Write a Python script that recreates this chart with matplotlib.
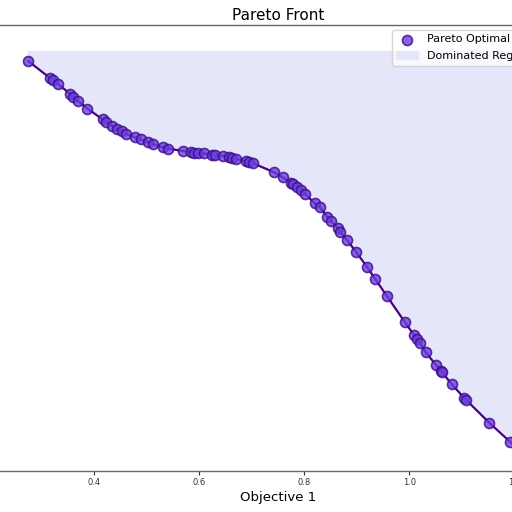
import numpy as np
import matplotlib
matplotlib.use("Agg")
import matplotlib.pyplot as plt

# Pareto optimal points (Objective 1, Objective 2)
OBJ1 = [0.274, 0.316, 0.321, 0.330, 0.354, 0.359, 0.368, 0.387, 0.416, 0.422,
        0.433, 0.444, 0.452, 0.460, 0.478, 0.488, 0.503, 0.512, 0.531, 0.541,
        0.568, 0.584, 0.589, 0.598, 0.608, 0.624, 0.630, 0.645, 0.657, 0.662,
        0.670, 0.688, 0.695, 0.703, 0.742, 0.759, 0.774, 0.779, 0.786, 0.794,
        0.801, 0.820, 0.830, 0.843, 0.850, 0.864, 0.868, 0.881, 0.899, 0.919,
        0.935, 0.957, 0.991, 1.009, 1.014, 1.021, 1.031, 1.051, 1.060, 1.062,
        1.081, 1.104, 1.108, 1.152, 1.192, 1.235]
OBJ2 = [1.000, 0.957, 0.953, 0.943, 0.918, 0.909, 0.901, 0.881, 0.854, 0.848,
        0.838, 0.829, 0.825, 0.818, 0.809, 0.804, 0.797, 0.792, 0.784, 0.781,
        0.775, 0.772, 0.770, 0.770, 0.769, 0.766, 0.764, 0.763, 0.759, 0.758,
        0.755, 0.750, 0.747, 0.744, 0.722, 0.709, 0.696, 0.692, 0.686, 0.678,
        0.668, 0.644, 0.634, 0.611, 0.601, 0.582, 0.573, 0.553, 0.522, 0.486,
        0.455, 0.413, 0.348, 0.315, 0.305, 0.294, 0.272, 0.240, 0.226, 0.222,
        0.192, 0.158, 0.153, 0.096, 0.048, 0.000]
FILL_TOP = 1.025

x = np.array(OBJ1)
y = np.array(OBJ2)

fig = plt.figure(figsize=(5.12, 5.12), dpi=100)
# axes wider than the figure: left/right spines sit outside the picture
ax = fig.add_axes([-30 / 512, 41 / 512, 616 / 512, 446 / 512])

fill = ax.fill_between(x, y, FILL_TOP, color="lavender", label="Dominated Region", zorder=1)
ax.plot(x, y, color="indigo", linewidth=1.6, zorder=2)
pts = ax.scatter(x, y, s=52, c="#6a3ee0", edgecolors="#3a0a85", linewidths=1.2,
                 alpha=0.8, label="Pareto Optimal Solutions", zorder=3)

ax.set_xlim(0.1632, 1.3366)
ax.set_ylim(-0.025, 1.09)
ax.set_xticks([0.4, 0.6, 0.8, 1.0, 1.2])
ax.tick_params(axis="x", labelsize=6, length=3, width=0.8, colors="#333333", pad=2)
ax.tick_params(axis="y", left=False, labelleft=False)
for s in ax.spines.values():
    s.set_color("#666666")
    s.set_linewidth(1.0)

ax.set_title("Pareto Front", fontsize=11, pad=3.5)
ax.set_xlabel("Objective 1", fontsize=9.5, labelpad=3)

ax.legend(handles=[pts, fill], loc="upper left", bbox_to_anchor=(391.7 / 512, 482 / 512),
          bbox_transform=fig.transFigure, borderaxespad=0, fontsize=8.0,
          framealpha=0.8, labelspacing=0.6)

fig.savefig("out.png", dpi=100)
